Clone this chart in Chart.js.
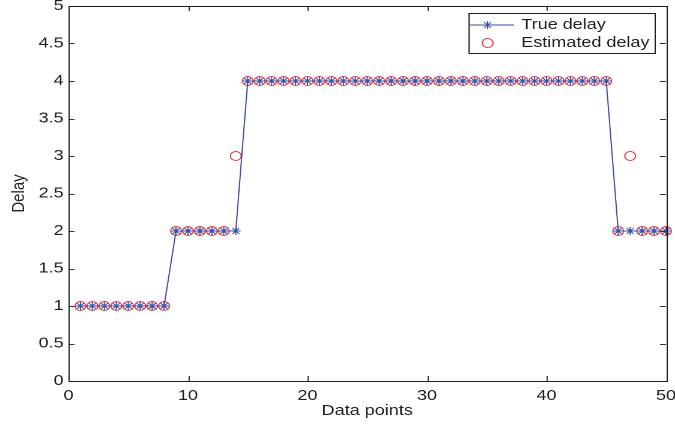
<!DOCTYPE html>
<html>
<head>
<meta charset="utf-8">
<script src="https://cdn.jsdelivr.net/npm/chart.js@4/dist/chart.umd.min.js"></script>
<style>
  html, body { margin: 0; padding: 0; background: #fff; overflow: hidden; }
  /* figure is drawn narrow and widened horizontally, like a resized figure export */
  #wrap { width: 562px; height: 425px; transform: scaleX(1.2011); transform-origin: 0 0; }
</style>
</head>
<body>
<div id="wrap"><canvas id="c"></canvas></div>
<script>
const pointIndex = [1,2,3,4,5,6,7,8,9,10,11,12,13,14,15,16,17,18,19,20,21,22,23,24,25,
                    26,27,28,29,30,31,32,33,34,35,36,37,38,39,40,41,42,43,44,45,46,47,48,49,50];
const trueDelay = [1,1,1,1,1,1,1,1, 2,2,2,2,2,2,
                   4,4,4,4,4,4,4,4,4,4,4,4,4,4,4,4,4,4,4,4,4,4,4,4,4,4,4,4,4,4,4,
                   2,2,2,2,2];
const estimatedDelay = [1,1,1,1,1,1,1,1, 2,2,2,2,2, 3,
                   4,4,4,4,4,4,4,4,4,4,4,4,4,4,4,4,4,4,4,4,4,4,4,4,4,4,4,4,4,4,4,
                   2, 3, 2,2,2];
const xTicks = [0, 10, 20, 30, 40, 50];
const yTicks = [0, 0.5, 1, 1.5, 2, 2.5, 3, 3.5, 4, 4.5, 5];
const seriesNames = ['True delay', 'Estimated delay'];

const BLUE = '#3550a6';
const RED = '#e8323c';
const INK = '#1e1e1e';
const FONT = 'Liberation Sans, Arial, Helvetica, sans-serif';

const toPoints = ys => pointIndex.map((x, i) => ({ x: x, y: ys[i] }));

// Box around the axes with inward tick marks on all four sides
const framePlugin = {
  id: 'frame',
  afterDatasetsDraw(chart) {
    const { ctx, chartArea: a, scales: { x, y } } = chart;
    ctx.save();
    ctx.strokeStyle = '#333';
    ctx.lineWidth = 1;
    ctx.beginPath();
    const tl = 5;
    xTicks.forEach(v => {
      const px = Math.round(x.getPixelForValue(v)) + 0.5;
      ctx.moveTo(px, a.bottom); ctx.lineTo(px, a.bottom - tl);
      ctx.moveTo(px, a.top); ctx.lineTo(px, a.top + tl);
    });
    yTicks.forEach(v => {
      const py = Math.round(y.getPixelForValue(v)) + 0.5;
      ctx.moveTo(a.left, py); ctx.lineTo(a.left + tl, py);
      ctx.moveTo(a.right, py); ctx.lineTo(a.right - tl, py);
    });
    ctx.stroke();
    ctx.strokeStyle = INK;
    ctx.strokeRect(Math.round(a.left) + 0.5, Math.round(a.top) + 0.5,
                   Math.round(a.right - a.left), Math.round(a.bottom - a.top));
    ctx.restore();
  }
};

// Boxed legend in the upper right corner: line sample with star, then circle
const legendPlugin = {
  id: 'boxLegend',
  afterDraw(chart) {
    const { ctx } = chart;
    const bx = 390.5, by = 13.5, bw = 155, bh = 40;
    ctx.save();
    ctx.fillStyle = '#fff';
    ctx.fillRect(bx, by, bw, bh);
    ctx.strokeStyle = INK;
    ctx.lineWidth = 1;
    ctx.strokeRect(bx, by, bw, bh);

    const mx = 406, r1 = 25, r2 = 43;
    // row 1: line + star
    ctx.strokeStyle = BLUE;
    ctx.beginPath();
    ctx.moveTo(bx + 1, r1); ctx.lineTo(428, r1);
    ctx.stroke();
    const s = 4, d = s * Math.SQRT1_2;
    ctx.beginPath();
    ctx.moveTo(mx - s, r1); ctx.lineTo(mx + s, r1);
    ctx.moveTo(mx, r1 - s); ctx.lineTo(mx, r1 + s);
    ctx.moveTo(mx - d, r1 - d); ctx.lineTo(mx + d, r1 + d);
    ctx.moveTo(mx - d, r1 + d); ctx.lineTo(mx + d, r1 - d);
    ctx.stroke();
    // row 2: circle
    ctx.strokeStyle = RED;
    ctx.beginPath();
    ctx.arc(mx, r2, 4.5, 0, Math.PI * 2);
    ctx.stroke();

    ctx.fillStyle = INK;
    ctx.font = '15px ' + FONT;
    ctx.textBaseline = 'middle';
    ctx.textAlign = 'left';
    ctx.fillText(chart.data.datasets[0].label, 434, r1);
    ctx.fillText(chart.data.datasets[1].label, 434, r2);
    ctx.restore();
  }
};

new Chart(document.getElementById('c'), {
  type: 'line',
  data: {
    datasets: [
      {
        label: seriesNames[0],
        data: toPoints(trueDelay),
        borderColor: BLUE,
        borderWidth: 1,
        pointStyle: 'star',
        pointRadius: 4,
        pointBorderColor: BLUE,
        pointBorderWidth: 1,
        pointBackgroundColor: BLUE,
        tension: 0,
        fill: false,
        clip: false
      },
      {
        label: seriesNames[1],
        data: toPoints(estimatedDelay),
        showLine: false,
        pointStyle: 'circle',
        pointRadius: 4.5,
        pointBorderColor: RED,
        pointBorderWidth: 1,
        pointBackgroundColor: 'rgba(0,0,0,0)',
        clip: false
      }
    ]
  },
  options: {
    responsive: true,
    maintainAspectRatio: false,
    devicePixelRatio: 2,
    animation: false,
    layout: { padding: { top: 6, right: 7.5, left: 0, bottom: 0 } },
    plugins: { legend: { display: false }, tooltip: { enabled: false } },
    scales: {
      x: {
        type: 'linear',
        min: 0, max: 50,
        afterBuildTicks: sc => { sc.ticks = xTicks.map(v => ({ value: v })); },
        afterFit: sc => { sc.height = 44; sc.paddingLeft = 0; sc.paddingRight = 0; },
        grid: { display: false, drawTicks: false, tickLength: 0 },
        border: { display: false },
        ticks: {
          color: INK, font: { family: FONT, size: 15 }, padding: 6, maxRotation: 0,
          callback: v => String(v)
        },
        title: {
          display: true, text: 'Data points', color: INK,
          font: { family: FONT, size: 15 }, padding: { top: 0, bottom: 5 }
        }
      },
      y: {
        type: 'linear',
        min: 0, max: 5,
        afterBuildTicks: sc => { sc.ticks = yTicks.map(v => ({ value: v })); },
        afterFit: sc => { sc.width = 57; sc.paddingTop = 0; sc.paddingBottom = 0; },
        grid: { display: false, drawTicks: false, tickLength: 0 },
        border: { display: false },
        ticks: {
          color: INK, font: { family: FONT, size: 15 }, padding: 4,
          callback: v => String(v)
        },
        title: {
          display: true, text: 'Delay', color: INK,
          font: { family: FONT, size: 15 }, padding: { top: 7, bottom: 0 }
        }
      }
    }
  },
  plugins: [framePlugin, legendPlugin]
});
</script>
</body>
</html>
